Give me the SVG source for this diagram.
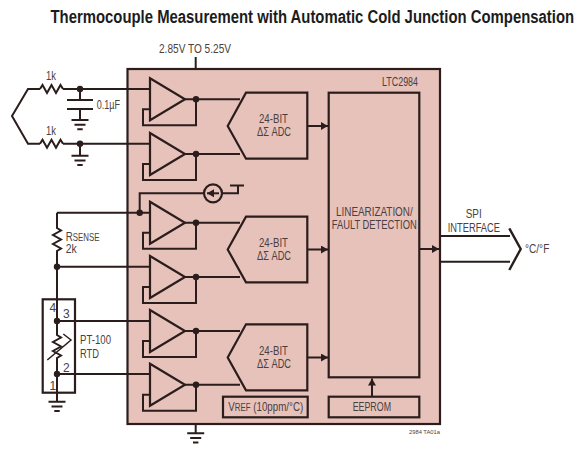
<svg xmlns="http://www.w3.org/2000/svg" width="580" height="453" viewBox="0 0 580 453">
<style>
.w{fill:none;stroke:#2b1d1c;stroke-width:2;stroke-linejoin:miter}
.b{fill:none;stroke:#2b1d1c;stroke-width:2.2}
.bf{fill:#e6c2bb;stroke:#2b1d1c;stroke-width:2.2}
.d{fill:#2b1d1c}
text{font-family:"Liberation Sans",Arial,sans-serif;font-size:13px;fill:#4b4040}
</style>
<defs>
<marker id="ah" markerUnits="userSpaceOnUse" markerWidth="8" markerHeight="8" refX="7" refY="4" orient="auto"><path d="M0,0L7,4L0,8z" fill="#2b1d1c"/></marker>
<g id="amp"><path class="bf" d="M150,0L185,21L150,42z"/><path class="w" d="M185,21H196V47H143V31H150"/><circle class="d" cx="196" cy="21" r="3.200"/></g>
<g id="gnd"><path class="w" d="M-8.500,0H8.500M-5.500,4.700H5.500M-2.700,9.200H2.700"/></g>
</defs>
<rect width="580" height="453" fill="#fff"/>
<text transform="translate(50.500,23) scale(0.88,1)" textLength="595" lengthAdjust="spacingAndGlyphs" style="font-size:18.500px;font-weight:700;fill:#1c1c1c">Thermocouple Measurement with Automatic Cold Junction Compensation</text>
<text x="159" y="52.700" textLength="72" lengthAdjust="spacingAndGlyphs">2.85V TO 5.25V</text>
<g id="chip"><rect class="bf" x="127.500" y="69" width="312.500" height="355"/><text x="382" y="85.700" textLength="36" lengthAdjust="spacingAndGlyphs">LTC2984</text></g>
<g id="connectors">
<path class="w" d="M195.700,57V69"/>
<path class="w" d="M40,89H28L12,116L28,143.700H40M63,89H150M63,143.700H150"/>
<path class="w" d="M40,89l2.500,-4l4.500,8l4.500,-8l4.500,8l4.500,-8l2.500,4M40,143.700l2.500,-4l4.500,8l4.500,-8l4.500,8l4.500,-8l2.500,4"/>
<path class="w" d="M80,89V100M67,100H93M67,109H93M80,109V120M80,143.700V155.700"/>
<use href="#gnd" x="80" y="120"/><use href="#gnd" x="80" y="155.700"/>
<path class="w" d="M57,212.700H150M139.700,212.700V193.300H204M222,193.300H238V185.500M230,185.500H244"/>
<path class="w" d="M57,212.700V228l4,2.500l-8,4.500l8,4.500l-8,4.500l8,4.500l-4,2.500V335l4,2.500l-8,4.500l8,4.500l-8,4.500l8,4.500l-4,2.500V401.700M57,266.700H150M57,321H150M57,374H150"/>
<path class="w" style="stroke-width:1.500" d="M47.300,360L71,340L63.300,334"/>
<use href="#gnd" x="57" y="401.700"/>
<path class="w" d="M195.700,424V433.300"/><use href="#gnd" x="195.700" y="433.300"/>
<path class="w" marker-end="url(#ah)" d="M307,126H328"/>
<path class="w" marker-end="url(#ah)" d="M307,249.500H328"/>
<path class="w" marker-end="url(#ah)" d="M307,357.500H328"/>
<path class="w" marker-end="url(#ah)" d="M419,249H439"/>
<path class="w" marker-end="url(#ah)" d="M372,396.700V378.500"/>
<path class="w" d="M440,236H510M440,261.700H510"/>
<path class="w" style="stroke-width:2.400" d="M509.300,228.300L520.700,249L509.300,270"/>
<path class="w" d="M196,99.300H240M196,154H240M196,222.700H240M196,277H240M196,331H240M196,384.700H240"/>
<circle class="d" cx="80" cy="89" r="3.200"/><circle class="d" cx="80" cy="143.700" r="3.200"/>
<circle class="d" cx="139.700" cy="212.700" r="3.200"/><circle class="d" cx="57" cy="266.700" r="3.200"/>
<circle class="d" cx="57" cy="321" r="3.200"/><circle class="d" cx="57" cy="374" r="3.200"/>
</g>
<g id="rtd"><rect x="42.700" y="299.300" width="32.300" height="93.400" class="b"/></g>
<g id="amp1"><use href="#amp" y="78.300"/></g>
<g id="amp2"><use href="#amp" y="133"/></g>
<g id="amp3"><use href="#amp" y="201.700"/></g>
<g id="amp4"><use href="#amp" y="256"/></g>
<g id="amp5"><use href="#amp" y="310"/></g>
<g id="amp6"><use href="#amp" y="363.700"/></g>
<g id="adc1"><path class="bf" d="M227.700,126L246,92.700H307.300V158.700H246z"/><text x="259" y="122.700" textLength="29" lengthAdjust="spacingAndGlyphs">24-BIT</text><text x="257" y="136" textLength="34" lengthAdjust="spacingAndGlyphs">ΔΣ ADC</text></g>
<g id="adc2"><path class="bf" d="M227.700,249.500L246,216.700H307.300V282.300H246z"/><text x="259" y="246.700" textLength="29" lengthAdjust="spacingAndGlyphs">24-BIT</text><text x="257" y="260" textLength="34" lengthAdjust="spacingAndGlyphs">ΔΣ ADC</text></g>
<g id="adc3"><path class="bf" d="M227.700,357.500L246,324.300H307.300V390.300H246z"/><text x="259" y="355" textLength="29" lengthAdjust="spacingAndGlyphs">24-BIT</text><text x="257" y="368" textLength="34" lengthAdjust="spacingAndGlyphs">ΔΣ ADC</text></g>
<g id="lin"><rect class="bf" x="328.700" y="92.700" width="90.600" height="284.600"/><text x="336" y="215.700" textLength="76.700" lengthAdjust="spacingAndGlyphs">LINEARIZATION/</text><text x="331.700" y="229" textLength="85" lengthAdjust="spacingAndGlyphs">FAULT DETECTION</text></g>
<g id="eeprom"><rect class="bf" x="328.700" y="396.700" width="90.600" height="20.600"/><text x="352.700" y="411" textLength="38.300" lengthAdjust="spacingAndGlyphs">EEPROM</text></g>
<g id="vref"><rect class="bf" x="223" y="396.700" width="84.700" height="20.600"/><text transform="translate(228.300,410.700) scale(0.75,1)">V<tspan style="font-size:10.500px">REF</tspan> (10ppm/°C)</text></g>
<g id="isrc"><circle cx="213" cy="193.300" r="9" class="b"/><path class="w" marker-end="url(#ah)" d="M219,193.300H207"/></g>
<g id="labels">
<text x="46" y="80" textLength="10" lengthAdjust="spacingAndGlyphs">1k</text>
<text x="46" y="135" textLength="10" lengthAdjust="spacingAndGlyphs">1k</text>
<text x="96.700" y="109" textLength="23.300" lengthAdjust="spacingAndGlyphs">0.1µF</text>
<text transform="translate(65.700,241) scale(0.75,1)">R<tspan style="font-size:10.500px">SENSE</tspan></text>
<text x="65.700" y="253" textLength="11" lengthAdjust="spacingAndGlyphs">2k</text>
<text x="80" y="344.300" textLength="31" lengthAdjust="spacingAndGlyphs">PT-100</text>
<text x="80" y="357.700" textLength="19" lengthAdjust="spacingAndGlyphs">RTD</text>
<text x="49.500" y="311.700" style="font-size:12px">4</text><text x="63" y="317.700" style="font-size:12px">3</text><text x="63" y="371.700" style="font-size:12px">2</text><text x="49.500" y="390" style="font-size:12px">1</text>
<text x="465.700" y="218.300" textLength="16" lengthAdjust="spacingAndGlyphs">SPI</text>
<text x="447.700" y="231.700" textLength="52.300" lengthAdjust="spacingAndGlyphs">INTERFACE</text>
<text x="525" y="252.700" textLength="24.300" lengthAdjust="spacingAndGlyphs">°C/°F</text>
<text x="409" y="434.300" textLength="31" lengthAdjust="spacingAndGlyphs" style="font-size:5.500px">2984 TA01a</text>
</g>
</svg>
